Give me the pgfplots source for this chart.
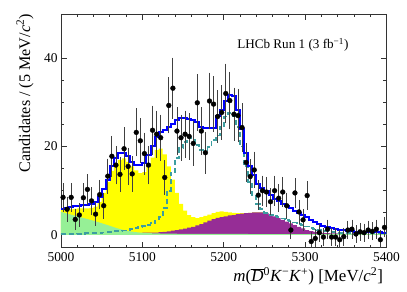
\documentclass[border=0pt]{standalone}
\usepackage{pgfplots}
\pgfplotsset{compat=1.18}
\usepackage{pgfplotstable}
\usepackage{fontspec}
\setmainfont{Liberation Serif}
\definecolor{fitblue}{RGB}{0,0,255}
\definecolor{sigteal}{RGB}{60,158,160}
\definecolor{bkgyellow}{RGB}{255,255,0}
\definecolor{bkgpurple}{RGB}{150,45,150}
\definecolor{bkggreen}{RGB}{150,240,150}

\pgfplotstableread{
x y e
5002.5 8.5 2.9
5007.5 5.8 2.5
5012.5 8.5 2.9
5017.5 3.5 2.1
5022.5 4.5 2.3
5027.5 8.4 2.9
5032.5 10.3 3.1
5037.5 7.7 2.8
5042.5 4.7 2.3
5047.5 9.1 3.0
5052.5 6.6 2.6
5057.5 13.3 3.6
5062.5 17.8 4.3
5067.5 15.8 4.0
5072.5 13.7 3.7
5077.5 19.5 4.5
5082.5 15.5 3.9
5087.5 13.8 3.7
5092.5 23.2 5.1
5097.5 21.3 4.8
5102.5 18.4 4.4
5107.5 15.8 4.0
5112.5 23.7 5.2
5117.5 22.8 5.0
5122.5 22.0 4.9
5127.5 13.0 3.6
5132.5 29.3 6.0
5137.5 33.2 6.6
5142.5 23.5 5.1
5147.5 22.0 4.9
5152.5 22.8 5.0
5157.5 22.3 4.9
5162.5 20.7 4.7
5167.5 29.9 6.1
5172.5 23.5 5.1
5177.5 18.6 4.4
5182.5 30.3 6.1
5187.5 29.6 6.0
5192.5 26.8 5.6
5197.5 27.7 5.8
5202.5 32.0 6.4
5207.5 30.4 6.2
5212.5 27.3 5.7
5217.5 27.0 5.7
5222.5 24.3 5.2
5227.5 16.4 4.1
5232.5 13.2 3.6
5237.5 14.7 3.8
5242.5 9.0 3.0
5247.5 10.0 3.1
5252.5 9.7 3.1
5257.5 7.5 2.7
5262.5 10.0 3.1
5267.5 8.3 2.8
5272.5 9.7 3.1
5277.5 6.6 2.6
5282.5 1.1 1.8
5287.5 9.5 3.0
5292.5 5.2 2.4
5297.5 3.4 2.1
5302.5 8.9 2.9
5307.5 -1.5 1.8
5312.5 -0.8 1.7
5317.5 0.5 1.7
5322.5 -0.5 1.7
5327.5 1.3 1.8
5332.5 -0.5 1.7
5337.5 -0.5 1.7
5342.5 -1.1 1.8
5347.5 -0.4 1.7
5352.5 1.1 1.8
5357.5 1.3 1.8
5362.5 0.2 1.6
5367.5 0.7 1.7
5372.5 0.5 1.7
5377.5 1.1 1.8
5382.5 0.8 1.7
5387.5 1.3 1.8
5392.5 -1.1 1.8
5397.5 1.7 1.9
}\datatable

\begin{document}
\begin{tikzpicture}
\useasboundingbox (-61bp,-44.3bp) rectangle (346bp,247.7bp);
\begin{axis}[
  at={(0,0)}, anchor=south west,
  width=325.5bp, height=233.7bp, scale only axis,
  xmin=5000, xmax=5400, ymin=-2.9, ymax=50,
  xtick={5000,5100,5200,5300,5400}, minor x tick num=4,
  ytick={0,20,40}, minor y tick num=3,
  tick align=inside, xtick pos=both, ytick pos=both,
  xticklabel pos=lower, yticklabel pos=left,
  major tick length=5.7bp, minor tick length=3bp,
  axis line style={black!80, line width=0.8pt},
  every tick/.style={black!80, line width=0.8pt},
  tick label style={font=\fontsize{13.5}{16}\selectfont},
  xticklabel style={yshift=-1.5bp},
  /pgf/number format/assume math mode=true,
  /pgf/number format/1000 sep={},
  xlabel={\textit{m}($\overline{\hbox{\textit{D}}}$\textsuperscript{0}\textit{K}\textsuperscript{−}\textit{K}\textsuperscript{+}) [MeV/\textit{c}\textsuperscript{2}]},
  ylabel={Candidates / (5 MeV/\textit{c}\textsuperscript{2})},
  every axis x label/.style={at={(axis description cs:0.99,-0.122)}, anchor=east, inner sep=0pt, font=\fontsize{17}{20}\selectfont},
  every axis y label/.style={at={(axis description cs:-0.1106,1)}, anchor=east, rotate=90, inner sep=0pt, font=\fontsize{16.2}{19}\selectfont},
]
% yellow (cumulative top)
\addplot[const plot, fill=bkgyellow, draw=none] coordinates {
(5000,5.6)(5005,5.7)(5010,5.8)(5015,5.9)(5020,6.0)(5025,6.0)(5030,6.0)(5035,6.1)(5040,6.4)(5045,7.5)
(5050,9.5)(5055,12.0)(5060,14.5)(5065,16.0)(5070,17.0)(5075,17.3)(5080,16.5)(5085,15.5)(5090,14.6)(5095,14.0)
(5100,14.2)(5105,15.5)(5110,17.5)(5115,19.2)(5120,19.5)(5125,18.2)(5130,15.5)(5135,12.5)(5140,9.5)(5145,7.0)
(5150,5.5)(5155,4.5)(5160,4.0)(5165,3.8)(5170,4.0)(5175,4.3)(5180,4.6)(5185,4.9)(5190,5.2)(5195,5.3)
(5200,5.2)(5205,5.1)(5210,5.0)(5215,4.9)(5220,4.9)(5225,4.9)(5230,5.0)(5235,5.1)(5240,5.1)(5245,5.1)(5250,5.1)
} \closedcycle;
% purple (cumulative top)
\addplot[const plot, fill=bkgpurple, draw=none] coordinates {
(5100,0.5)(5105,0.5)(5110,0.5)(5115,0.52)(5120,0.6)(5125,0.68)(5130,0.81)(5135,0.95)(5140,1.09)(5145,1.24)
(5150,1.44)(5155,1.64)(5160,1.84)(5165,2.14)(5170,2.44)(5175,2.84)(5180,3.24)(5185,3.54)(5190,3.84)(5195,4.04)
(5200,4.2)(5205,4.4)(5210,4.5)(5215,4.7)(5220,4.8)(5225,4.9)(5230,5.0)(5235,5.1)(5240,5.1)(5245,5.1)
(5250,4.9)(5255,4.6)(5260,4.2)(5265,3.8)(5270,3.4)(5275,3.0)(5280,2.6)(5285,2.2)(5290,1.8)(5295,1.5)
(5300,1.07)(5305,0.87)(5310,0.67)(5315,0.57)(5320,0.47)(5325,0.42)(5330,0.37)(5335,0.32)(5340,0.29)(5345,0.25)
(5350,0.25)(5400,0.25)
} \closedcycle;
% green
\addplot[fill=bkggreen, draw=none] coordinates {
(5000,5.2)(5010,4.7)(5020,4.2)(5030,3.7)(5040,3.2)(5050,2.65)(5060,2.05)(5070,1.45)(5080,0.95)(5090,0.65)
(5100,0.48)(5110,0.38)(5120,0.32)(5140,0.26)(5170,0.23)(5200,0.21)(5300,0.18)(5400,0.16)
} \closedcycle;
% signal dashed
\addplot[const plot, sigteal, line width=1.9pt, dash pattern=on 5pt off 3pt] coordinates {
(5000,0.2)(5005,0.2)(5010,0.2)(5015,0.25)(5020,0.3)(5025,0.3)(5030,0.35)(5035,0.4)(5040,0.45)(5045,0.5)
(5050,0.55)(5055,0.6)(5060,0.7)(5065,0.8)(5070,0.9)(5075,1.0)(5080,1.15)(5085,1.3)(5090,1.5)(5095,1.7)
(5100,2.0)(5105,2.3)(5110,2.7)(5115,3.2)(5120,4.0)(5125,6.0)(5130,10.0)(5135,14.0)(5140,17.5)(5145,19.6)
(5150,21.0)(5155,22.0)(5160,21.5)(5165,20.3)(5170,19.2)(5175,19.2)(5180,19.8)(5185,21.5)(5190,22.5)(5195,24.5)
(5200,26.8)(5205,27.5)(5210,27.0)(5215,24.5)(5220,20.0)(5225,15.5)(5230,12.0)(5235,9.0)(5240,7.0)(5245,5.8)
(5250,5.0)(5255,4.6)(5260,4.3)(5265,4.0)(5270,3.7)(5275,3.4)(5280,3.1)(5285,2.8)(5290,2.5)(5295,2.2)
(5300,1.9)(5305,1.6)(5310,1.3)(5315,1.1)(5320,0.9)(5325,0.8)(5330,0.7)(5335,0.6)(5340,0.5)(5400,0.5)
};
% total fit
\addplot[const plot, fitblue, line width=2pt] coordinates {
(5000,5.9)(5005,6.1)(5010,6.3)(5015,6.5)(5020,6.6)(5025,6.7)(5030,6.8)(5035,7.0)(5040,7.5)(5045,8.5)
(5050,10.3)(5055,12.5)(5060,15.5)(5065,17.5)(5070,18.5)(5075,18.6)(5080,17.8)(5085,16.5)(5090,15.8)(5095,15.8)
(5100,16.3)(5105,18.0)(5110,20.2)(5115,22.2)(5120,23.3)(5125,23.8)(5130,24.5)(5135,25.0)(5140,26.0)(5145,26.4)
(5150,26.4)(5155,26.3)(5160,26.0)(5165,25.5)(5170,24.5)(5175,24.1)(5180,24.1)(5185,24.1)(5190,27.0)(5195,28.2)
(5200,30.4)(5205,31.6)(5210,31.4)(5215,28.2)(5220,24.0)(5225,18.5)(5230,15.5)(5235,13.5)(5240,11.5)(5245,10.6)
(5250,10.0)(5255,9.0)(5260,8.2)(5265,7.6)(5270,7.0)(5275,6.5)(5280,6.0)(5285,5.5)(5290,5.0)(5295,4.5)
(5300,4.0)(5305,3.4)(5310,2.9)(5315,2.5)(5320,2.1)(5325,1.8)(5330,1.5)(5335,1.3)(5340,1.1)(5345,1.0)
(5350,0.9)(5355,0.8)(5360,0.75)(5365,0.7)(5370,0.65)(5375,0.6)(5380,0.6)(5385,0.55)(5390,0.55)(5395,0.5)(5400,0.5)
};
% data
\addplot[only marks, mark=*, mark size=2.4bp, black,
  error bars/.cd, y dir=both, y explicit,
  error bar style={black!75, line width=0.8pt},
  error mark options={black!75, line width=0.8pt, mark size=1.5bp}]
  table[x=x, y=y, y error=e] {\datatable};
\node[anchor=west, inner sep=0pt, font=\fontsize{13.2}{15}\selectfont] at (axis description cs:0.541,0.867) {LHCb Run 1 (3 fb\textsuperscript{−1})};
\end{axis}
\end{tikzpicture}
\end{document}
